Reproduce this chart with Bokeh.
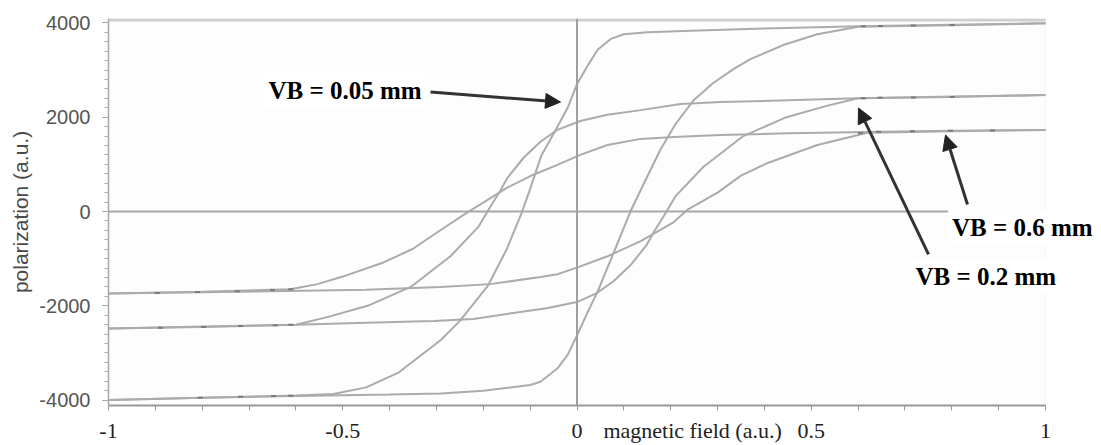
from bokeh.plotting import figure
from bokeh.models import Range1d, FixedTicker, Span, Label, Arrow, NormalHead, BoxAnnotation
from bokeh.embed import file_html
from bokeh.resources import INLINE

# ---- data ----
# VB = 0.05 mm loop
a_desc_x = [-1.0, -0.8, -0.6, -0.52, -0.45, -0.38, -0.29, -0.25, -0.19, -0.15, -0.117, -0.1, -0.076, -0.046, -0.02, 0.0, 0.022, 0.044, 0.072, 0.1, 0.15, 0.26, 0.4, 0.6, 0.8, 1.0]
a_desc_y = [-4000, -3950, -3900, -3870, -3730, -3410, -2720, -2320, -1570, -800, 0, 480, 1190, 1720, 2200, 2700, 3080, 3430, 3660, 3760, 3800, 3840, 3880, 3930, 3960, 3990]
a_asc_x = [-1.0, -0.8, -0.6, -0.4, -0.29, -0.2, -0.1, -0.078, -0.042, -0.02, 0.0, 0.022, 0.044, 0.078, 0.114, 0.148, 0.178, 0.21, 0.249, 0.29, 0.334, 0.37, 0.44, 0.513, 0.6, 0.8, 1.0]
a_asc_y = [-4000, -3950, -3910, -3880, -3860, -3800, -3680, -3610, -3330, -3040, -2630, -2150, -1700, -880, 0, 700, 1310, 1850, 2360, 2720, 3020, 3230, 3530, 3760, 3920, 3950, 3990]
a_dots_x = [-0.804, -0.718, -0.648, -0.611, 0.611, 0.648, 0.718, 0.801]
a_dots_y = [-3950, -3930, -3915, -3905, 3930, 3935, 3945, 3955]

# VB = 0.2 mm loop
b_desc_x = [-1.0, -0.8, -0.6, -0.533, -0.447, -0.355, -0.27, -0.21, -0.185, -0.165, -0.148, -0.114, -0.078, -0.042, 0.007, 0.065, 0.136, 0.221, 0.306, 0.45, 0.6, 0.8, 1.0]
b_desc_y = [-2480, -2450, -2400, -2240, -2000, -1600, -950, -320, 100, 420, 720, 1140, 1480, 1730, 1920, 2050, 2150, 2280, 2320, 2360, 2400, 2430, 2470]
b_asc_x = [-1.0, -0.8, -0.6, -0.45, -0.306, -0.221, -0.136, -0.065, 0.0, 0.042, 0.078, 0.114, 0.148, 0.165, 0.185, 0.21, 0.27, 0.355, 0.447, 0.533, 0.6, 0.8, 1.0]
b_asc_y = [-2480, -2440, -2400, -2360, -2320, -2280, -2150, -2050, -1920, -1730, -1480, -1140, -720, -420, -100, 320, 950, 1600, 2000, 2240, 2400, 2440, 2470]
b_dots_x = [-0.889, -0.797, -0.718, -0.644, -0.611, 0.611, 0.647, 0.718, 0.801]
b_dots_y = [-2465, -2450, -2430, -2410, -2400, 2400, 2410, 2420, 2430]

# VB = 0.6 mm loop
c_desc_x = [-1.0, -0.8, -0.612, -0.554, -0.5, -0.413, -0.35, -0.298, -0.234, -0.206, -0.148, -0.093, -0.042, 0.007, 0.065, 0.136, 0.206, 0.306, 0.45, 0.654, 0.8, 1.0]
c_desc_y = [-1740, -1700, -1650, -1540, -1380, -1080, -790, -440, -20, 150, 510, 780, 990, 1200, 1410, 1540, 1580, 1620, 1660, 1690, 1710, 1730]
c_asc_x = [-1.0, -0.8, -0.654, -0.45, -0.291, -0.185, -0.078, -0.042, 0.003, 0.065, 0.136, 0.206, 0.236, 0.3, 0.35, 0.407, 0.513, 0.62, 0.8, 1.0]
c_asc_y = [-1740, -1710, -1690, -1660, -1600, -1540, -1390, -1330, -1180, -950, -630, -230, 40, 400, 760, 1030, 1410, 1670, 1700, 1730]
c_dots_x = [-0.896, -0.81, -0.725, -0.65, -0.611, 0.605, 0.644, 0.716, 0.797, 0.887]
c_dots_y = [-1730, -1705, -1690, -1665, -1650, 1665, 1690, 1700, 1710, 1720]

x_ticks = [-1, -0.5, 0, 0.2467, 0.5, 1]
x_tick_labels = ["-1", "-0.5", "0", "magnetic field (a.u.)", "0.5", "1"]
x_minor_ticks = [-1.0, -0.9, -0.8, -0.7, -0.6, -0.5, -0.4, -0.3, -0.2, -0.1, 0.0,
                 0.1, 0.2, 0.3, 0.4, 0.5, 0.6, 0.7, 0.8, 0.9, 1.0]
y_ticks = [-4000, -2000, 0, 2000, 4000]
y_tick_labels = ["-4000", "-2000", "0", "2000", "4000"]

labels = ["VB = 0.05 mm", "VB = 0.2 mm", "VB = 0.6 mm"]
y_title = "polarization (a.u.)"

# ---- figure ----
# frame runs to the right edge so the right-hand labels are not clipped;
# x = 1 still sits at 1045 px
p = figure(width=1101, height=445, output_backend="svg", toolbar_location=None,
           x_range=Range1d(-1, 1 + 56 / 468.5), y_range=Range1d(-4114, 4093),
           min_border_left=108, min_border_right=0, min_border_top=18, min_border_bottom=38)
p.background_fill_color = "white"
p.border_fill_color = "white"
p.outline_line_color = None
p.xgrid.visible = False
p.ygrid.visible = False

# plot-area frame pieces (right edge and thick top edge)
p.add_layout(BoxAnnotation(left=-1, right=1, bottom=-4114, top=4093, fill_color="#fdfdfd",
                           fill_alpha=1, line_color="#dcdcdc", line_width=1, level="underlay"))
p.add_layout(BoxAnnotation(left=-1, right=1, bottom=4030, top=4093, fill_color="#cfcfcf",
                           fill_alpha=1, line_color=None))
# zero lines
p.add_layout(BoxAnnotation(left=-1, right=1.035, bottom=-20, top=20, fill_color="#a8a8a8",
                           fill_alpha=1, line_color=None))
p.add_layout(Span(location=0, dimension="height", line_color="#a0a0a0", line_width=2))

curve_color = "#ababab"
for xs, ys in [(a_desc_x, a_desc_y), (a_asc_x, a_asc_y),
               (b_desc_x, b_desc_y), (b_asc_x, b_asc_y),
               (c_desc_x, c_desc_y), (c_asc_x, c_asc_y)]:
    p.line(xs, ys, line_color=curve_color, line_width=2)
for xs, ys in [(a_dots_x, a_dots_y), (b_dots_x, b_dots_y), (c_dots_x, c_dots_y)]:
    p.scatter(xs, ys, marker="dash", size=5, line_color="#7a7a7a", line_width=2)

# axes
xa = p.xaxis[0]
xa.bounds = (-1, 1)
xa.ticker = FixedTicker(ticks=x_ticks, minor_ticks=x_minor_ticks)
xa.major_label_overrides = {t: s for t, s in zip(x_ticks, x_tick_labels)}
xa.axis_line_color = "#9a9a9a"
xa.axis_line_width = 2
xa.major_tick_in = 0
xa.major_tick_out = 0
xa.minor_tick_line_color = "#9a9a9a"
xa.minor_tick_in = 0
xa.minor_tick_out = 5
xa.major_label_standoff = 7
xa.major_label_text_font = "Liberation Serif"
xa.major_label_text_font_size = "22px"
xa.major_label_text_color = "#222222"

ya = p.yaxis[0]
ya.ticker = FixedTicker(ticks=y_ticks, minor_ticks=list(range(-4000, 4001, 200)))
ya.major_label_overrides = {t: s for t, s in zip(y_ticks, y_tick_labels)}
ya.axis_line_color = "#a8a8a8"
ya.axis_line_width = 1.5
ya.major_tick_line_color = "#999999"
ya.minor_tick_line_color = "#aaaaaa"
ya.major_tick_in = 0
ya.major_tick_out = 6
ya.minor_tick_in = 0
ya.minor_tick_out = 4
ya.major_label_standoff = 12
ya.major_label_text_font = "Liberation Sans"
ya.major_label_text_font_size = "20px"
ya.major_label_text_color = "#555555"
ya.axis_label = y_title
ya.axis_label_standoff = 4
ya.axis_label_text_font = "Liberation Sans"
ya.axis_label_text_font_style = "normal"
ya.axis_label_text_font_size = "21px"
ya.axis_label_text_color = "#4a4a4a"

# annotations
def add_arrow(x0, y0, x1, y1):
    p.add_layout(Arrow(end=NormalHead(size=15, fill_color="#222222", line_color="#222222"),
                       x_start=x0, y_start=y0, x_end=x1, y_end=y1,
                       line_color="#333333", line_width=3))

add_arrow(-0.3127, 2532, -0.0352, 2321)
add_arrow(0.7503, -907, 0.6009, 2194)
add_arrow(0.8335, 148, 0.7866, 1624)

for txt, lx, ly in [(labels[0], -0.667, 2574), (labels[1], 0.714, -1371), (labels[2], 0.792, -338)]:
    p.add_layout(Label(x=lx, y=ly, text=txt, text_align="left", text_baseline="middle",
                       text_font="Liberation Serif", text_font_style="bold", text_font_size="25px",
                       text_color="black", background_fill_color="white", padding=4))

open("out.html", "w").write(file_html(p, INLINE))
